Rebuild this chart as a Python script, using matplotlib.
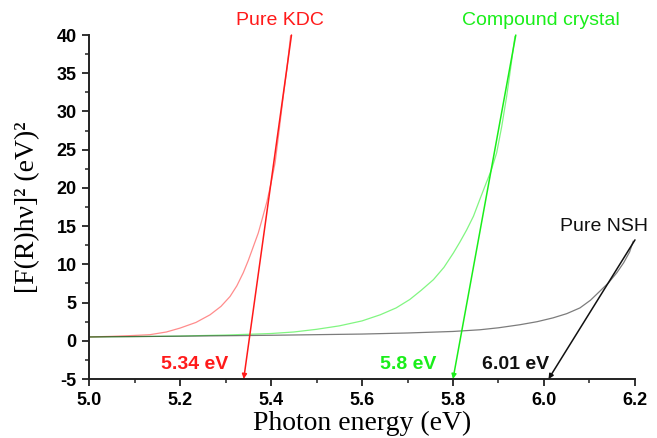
import matplotlib
matplotlib.use("Agg")
import matplotlib.pyplot as plt
from matplotlib.ticker import MultipleLocator

plt.rcParams["axes.unicode_minus"] = False

# Data
kdc_x = [5.0, 5.05, 5.1, 5.134, 5.17, 5.2, 5.235, 5.266, 5.29, 5.31, 5.325, 5.339, 5.35, 5.361, 5.372, 5.38, 5.391, 5.40, 5.409, 5.418, 5.427, 5.435, 5.443]
kdc_y = [0.5, 0.58, 0.7, 0.8, 1.15, 1.66, 2.4, 3.4, 4.5, 5.8, 7.2, 8.9, 10.5, 12.3, 14.1, 15.8, 18.2, 20.6, 23.3, 27.6, 32.0, 35.6, 39.9]

cmp_x = [5.0, 5.1, 5.2, 5.3, 5.4, 5.45, 5.5, 5.55, 5.6, 5.64, 5.675, 5.705, 5.73, 5.757, 5.78, 5.801, 5.815, 5.83, 5.845, 5.859, 5.872, 5.884, 5.896, 5.907, 5.918, 5.927, 5.936]
cmp_y = [0.5, 0.55, 0.62, 0.75, 0.95, 1.15, 1.5, 1.95, 2.6, 3.4, 4.3, 5.4, 6.6, 8.0, 9.6, 11.5, 12.9, 14.5, 16.3, 18.5, 20.5, 22.3, 24.6, 28.0, 32.0, 35.8, 39.8]

nsh_x = [5.0, 5.2, 5.4, 5.6, 5.7, 5.8, 5.859, 5.9, 5.947, 5.985, 6.02, 6.05, 6.079, 6.102, 6.123, 6.142, 6.16, 6.175, 6.188, 6.196]
nsh_y = [0.5, 0.6, 0.72, 0.88, 1.02, 1.22, 1.44, 1.7, 2.1, 2.5, 3.0, 3.55, 4.3, 5.3, 6.5, 7.6, 8.9, 10.2, 11.6, 13.0]

# Tangent extrapolation lines: (top point) -> (band gap on y = -5)
kdc_tan = [(5.445, 40.0), (5.34, -5.0)]
cmp_tan = [(5.938, 40.0), (5.80, -5.0)]
nsh_tan = [(6.20, 13.2), (6.01, -5.0)]

names = ["Pure KDC", "Compound crystal", "Pure NSH"]
gaps = ["5.34 eV", "5.8 eV", "6.01 eV"]

red = "#ff1a1a"
green = "#1aee1a"
black = "#111111"

fig = plt.figure(figsize=(6.57, 4.38), dpi=100)
ax = fig.add_axes([0.1355, 0.1347, 0.831, 0.7853])

ax.plot(kdc_x, kdc_y, color=red, lw=0.9, alpha=0.5)
ax.plot(cmp_x, cmp_y, color=green, lw=0.9, alpha=0.55)
ax.plot(nsh_x, nsh_y, color=black, lw=0.9, alpha=0.55)

for tan, c in [(kdc_tan, red), (cmp_tan, green), (nsh_tan, black)]:
    ax.annotate("", xy=tan[1], xytext=tan[0],
                arrowprops=dict(arrowstyle="-|>", color=c, lw=1.1,
                                mutation_scale=7, shrinkA=0, shrinkB=0),
                annotation_clip=False)

lab_font = dict(family="Liberation Sans", fontsize=14)
ax.text(5.42, 41.9, names[0], color=red, ha="center", va="center", clip_on=False, **lab_font)
ax.text(5.993, 41.9, names[1], color=green, ha="center", va="center", clip_on=False, **lab_font)
ax.text(6.132, 14.9, names[2], color=black, ha="center", va="center", clip_on=False, **lab_font)

gap_font = dict(family="Liberation Sans", fontsize=14, fontweight="bold")
ax.text(5.233, -3.1, gaps[0], color=red, ha="center", va="center", **gap_font)
ax.text(5.701, -3.1, gaps[1], color=green, ha="center", va="center", **gap_font)
ax.text(5.938, -3.1, gaps[2], color=black, ha="center", va="center", **gap_font)

ax.set_xlim(5.0, 6.2)
ax.set_ylim(-5, 40)
ax.xaxis.set_minor_locator(MultipleLocator(0.1))
ax.yaxis.set_major_locator(MultipleLocator(5))
ax.yaxis.set_minor_locator(MultipleLocator(2.5))
ax.set_xticks([5.0, 5.2, 5.4, 5.6, 5.8, 6.0, 6.2])
ax.set_xticklabels(["5.0", "5.2", "5.4", "5.6", "5.8", "6.0", "6.2"])

for s in ["top", "right"]:
    ax.spines[s].set_visible(False)
for s in ["left", "bottom"]:
    ax.spines[s].set_linewidth(1.4)
    ax.spines[s].set_color("#222222")

ax.tick_params(which="major", direction="out", length=5, width=1.3, color="#222222", pad=4)
ax.tick_params(which="minor", direction="out", length=3, width=1.1, color="#222222")
for lab in ax.get_xticklabels() + ax.get_yticklabels():
    lab.set_fontfamily("Liberation Sans")
    lab.set_fontweight("bold")
    lab.set_fontsize(13)

ax.set_xlabel("Photon energy (eV)", family="Liberation Serif", fontsize=20, labelpad=2)
ax.set_ylabel("[F(R)hν]² (eV)²", family="Liberation Serif", fontsize=20, labelpad=12)

fig.savefig("out.png", dpi=100)
